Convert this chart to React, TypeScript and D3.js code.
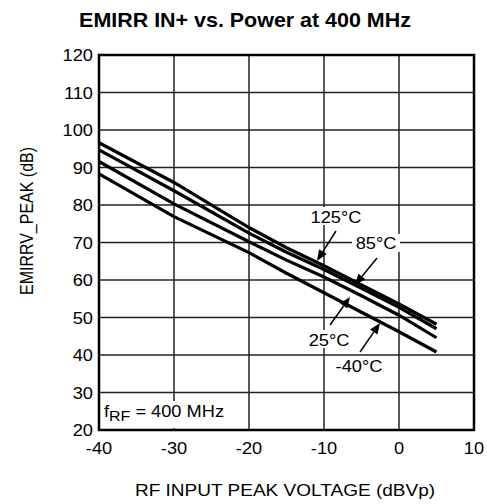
import React from "react";
import * as d3 from "d3";

const xTicks = [-40, -30, -20, -10, 0, 10];
const yTicks = [20, 30, 40, 50, 60, 70, 80, 90, 100, 110, 120];
const xs = [-40, -30, -20, -15, -10, -5, 0, 5];
const s125 = [96.6, 86.0, 74.0, 68.6, 63.8, 58.7, 53.6, 48.2];
const s85 = [94.7, 83.8, 72.5, 67.4, 62.8, 57.8, 52.7, 47.0];
const s25 = [91.6, 80.3, 70.2, 65.3, 60.8, 55.8, 50.6, 44.6];
const sM40 = [88.3, 76.9, 67.3, 61.8, 56.6, 51.4, 46.2, 40.8];
const series = [s125, s85, s25, sM40];

const W = 487, H = 504;
const L = 99, R = 474, T = 55, B = 430;
const FONT = "'Liberation Sans', Arial, Helvetica, sans-serif";
const SX = 1.14;

function Txt({ x, y, anchor = "start", size = 16, weight = "normal", children, sx = SX }: any) {
  return (
    <g transform={`translate(${x},${y}) scale(${sx},1)`}>
      <text x={0} y={0} textAnchor={anchor} fontSize={size} fontWeight={weight} fontFamily={FONT} fill="#000">
        {children}
      </text>
    </g>
  );
}

function Arrow({ x1, y1, x2, y2 }: any) {
  const ang = Math.atan2(y2 - y1, x2 - x1);
  const len = 11, half = 4.5;
  const bx = x2 - len * Math.cos(ang), by = y2 - len * Math.sin(ang);
  const px = -Math.sin(ang) * half, py = Math.cos(ang) * half;
  return (
    <g>
      <line x1={x1} y1={y1} x2={bx} y2={by} stroke="#000" strokeWidth={1.5} />
      <path d={`M${x2},${y2} L${bx + px},${by + py} L${bx - px},${by - py} Z`} fill="#000" />
    </g>
  );
}

export default function App() {
  const x = d3.scaleLinear().domain([-40, 10]).range([L, R]);
  const y = d3.scaleLinear().domain([20, 120]).range([B, T]);
  const line = d3.line<number>().x((_, i) => x(xs[i])).y((d) => y(d));

  return (
    <svg width={W} height={H} style={{ position: "absolute", left: 0, top: 0, background: "#fff" }}>
      <rect x={0} y={0} width={W} height={H} fill="#fff" />
      <Txt x={245} y={27} anchor="middle" size={19.5} weight="bold" sx={1.1}>
        EMIRR IN+ vs. Power at 400 MHz
      </Txt>
      {xTicks.slice(1, -1).map((t) => (
        <line key={"vx" + t} x1={x(t)} x2={x(t)} y1={T} y2={B} stroke="#222" strokeWidth={1.5} />
      ))}
      {yTicks.slice(1, -1).map((t) => (
        <line key={"hy" + t} x1={L} x2={R} y1={y(t)} y2={y(t)} stroke="#222" strokeWidth={1.5} />
      ))}
      {yTicks.map((t) => (
        <Txt key={"yl" + t} x={93} y={y(t) + 6} anchor="end" size={16}>
          {t}
        </Txt>
      ))}
      {xTicks.map((t) => (
        <Txt key={"xl" + t} x={x(t)} y={454} anchor="middle" size={16}>
          {t}
        </Txt>
      ))}
      {series.map((s, i) => (
        <path key={"s" + i} d={line(s) || ""} fill="none" stroke="#000" strokeWidth={3.2} />
      ))}
      {/* f_RF label */}
      <rect x={101} y={401} width={136} height={27} fill="#fff" />
      <g transform={`translate(104,417) scale(${SX},1)`}>
        <text x={0} y={0} fontSize={16} fontFamily={FONT}>
          f<tspan fontSize={14} dy={4}>RF</tspan>
          <tspan dy={-4}> = 400 MHz</tspan>
        </text>
      </g>
      {/* labels */}
      <rect x={310} y={207} width={53} height={18} fill="#fff" />
      <Txt x={336} y={223} anchor="middle" size={16}>125°C</Txt>
      <Arrow x1={336} y1={231} x2={317} y2={261} />
      <rect x={352} y={234} width={48} height={18} fill="#fff" />
      <Txt x={376} y={249} anchor="middle" size={16}>85°C</Txt>
      <Arrow x1={377} y1={258} x2={355} y2={285} />
      <rect x={306} y={330} width={46} height={18} fill="#fff" />
      <Txt x={329} y={346} anchor="middle" size={16}>25°C</Txt>
      <Arrow x1={330} y1={325} x2={350} y2={297} />
      <rect x={333} y={356} width={52} height={18} fill="#fff" />
      <Txt x={359} y={372} anchor="middle" size={16}>-40°C</Txt>
      <Arrow x1={360} y1={352} x2={380} y2={323} />
      <rect x={L} y={T} width={R - L} height={B - T} fill="none" stroke="#000" strokeWidth={2.5} />
      <Txt x={285} y={496} anchor="middle" size={17} sx={1.12}>
        RF INPUT PEAK VOLTAGE (dBVp)
      </Txt>
      <g transform="translate(33,221) rotate(-90) scale(1,1.1)">
        <text x={0} y={0} textAnchor="middle" fontSize={16} fontFamily={FONT}>
          EMIRRV_PEAK (dB)
        </text>
      </g>
    </svg>
  );
}
